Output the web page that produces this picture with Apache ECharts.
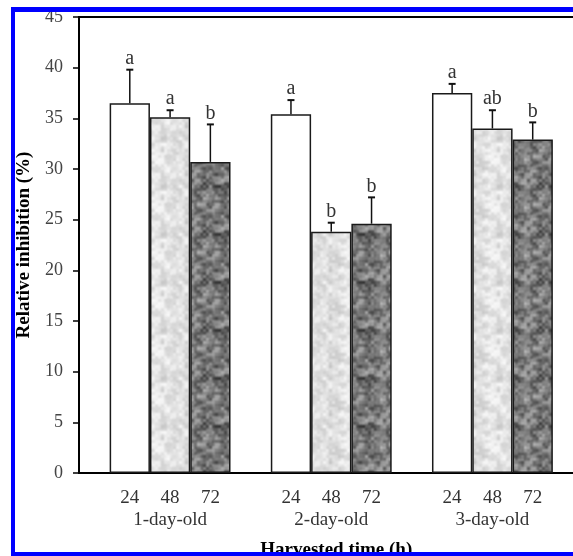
<!DOCTYPE html>
<html><head><meta charset="utf-8">
<script src="https://cdn.jsdelivr.net/npm/echarts@6/dist/echarts.min.js"></script>
<style>
html,body{margin:0;padding:0;background:#fff}
#wrap{position:relative;width:573px;height:556px;overflow:hidden;background:#fff}
#chart{width:573px;height:556px}
#frame{position:absolute;left:11px;top:7px;right:-20px;bottom:0;border-style:solid;border-color:#0000ff;border-width:5px 4px 4px 4px;box-sizing:border-box;pointer-events:none}
</style>
</head><body>
<div id="wrap"><div id="chart"></div><div id="frame"></div></div>
<script>
// ---- data ----
const categories = ['1-day-old', '2-day-old', '3-day-old'];
const harvestTimes = ['24', '48', '72'];
const values24 = [36.5, 35.4, 37.5];
const values48 = [35.1, 23.8, 34.0];
const values72 = [30.7, 24.6, 32.9];
const err24 = [3.3, 1.4, 0.9];
const err48 = [0.7, 0.9, 1.8];
const err72 = [3.7, 2.6, 1.7];
const letters24 = ['a', 'a', 'a'];
const letters48 = ['a', 'b', 'ab'];
const letters72 = ['b', 'b', 'b'];
const yMin = 0, yMax = 45, yStep = 5;

// ---- textures (deterministic) ----
function makeTexture(seed, base, amp) {
  const N = 48;
  const c = document.createElement('canvas'); c.width = c.height = N;
  const ctx = c.getContext('2d'); const img = ctx.createImageData(N, N);
  let s = seed;
  const rnd = () => { s = (s * 1103515245 + 12345) & 0x7fffffff; return s / 0x7fffffff; };
  function octave(cell) {
    const G = N / cell; const g = [];
    for (let i = 0; i < G * G; i++) g.push(rnd());
    return (x, y) => {
      const gx = x / cell, gy = y / cell;
      const x0 = Math.floor(gx), y0 = Math.floor(gy);
      const fx = gx - x0, fy = gy - y0;
      const sx = fx * fx * (3 - 2 * fx), sy = fy * fy * (3 - 2 * fy);
      const a = g[(y0 % G) * G + (x0 % G)], b = g[(y0 % G) * G + ((x0 + 1) % G)];
      const cc = g[((y0 + 1) % G) * G + (x0 % G)], d = g[((y0 + 1) % G) * G + ((x0 + 1) % G)];
      return (a * (1 - sx) + b * sx) * (1 - sy) + (cc * (1 - sx) + d * sx) * sy;
    };
  }
  const o1 = octave(6), o2 = octave(3);
  for (let y = 0; y < N; y++) for (let x = 0; x < N; x++) {
    const n = 0.6 * o1(x, y) + 0.4 * o2(x, y);
    let v = base + amp * (n - 0.5) * 2.4;
    v = Math.max(0, Math.min(255, v));
    const k = (y * N + x) * 4;
    img.data[k] = img.data[k + 1] = img.data[k + 2] = v; img.data[k + 3] = 255;
  }
  ctx.putImageData(img, 0, 0);
  return c;
}
const fills = [
  '#ffffff',
  { image: makeTexture(12345, 224, 26), repeat: 'repeat' },
  { image: makeTexture(67890, 124, 66), repeat: 'repeat' }
];

const valueSets = [values24, values48, values72];
const errSets = [err24, err48, err72];
const letterSets = [letters24, letters48, letters72];
const serif = 'Liberation Serif';

const series = [];
valueSets.forEach((vals, i) => {
  series.push({
    type: 'bar', name: harvestTimes[i], xAxisIndex: 1, yAxisIndex: 1,
    data: vals, barWidth: '25%', barGap: '0%', z: 2,
    itemStyle: { color: fills[i], borderColor: '#1a1a1a', borderWidth: 1.5 }
  });
});
valueSets.forEach((vals, i) => {
  series.push({
    type: 'custom', xAxisIndex: 1, yAxisIndex: 1, z: 5,
    data: vals.map((v, j) => [j, v, errSets[i][j]]),
    encode: { x: 0, y: 1 },
    renderItem: (params, api) => {
      const j = api.value(0), v = api.value(1), e = api.value(2);
      const band = api.size([1, 0])[0];
      const off = band * 0.25 * (i - 1);
      const p0 = api.coord([j, v]), p1 = api.coord([j, v + e]);
      const x = p0[0] + off;
      return {
        type: 'group', children: [
          { type: 'line', shape: { x1: x, y1: p0[1], x2: x, y2: p1[1] }, style: { stroke: '#111', lineWidth: 1.5 } },
          { type: 'line', shape: { x1: x - 3.5, y1: p1[1], x2: x + 3.5, y2: p1[1] }, style: { stroke: '#111', lineWidth: 2 } },
          { type: 'text', x: x, y: p1[1] - 11, style: { text: letterSets[i][params.dataIndex], fill: '#333', font: '20px "Liberation Serif"', align: 'center', verticalAlign: 'middle' } }
        ]
      };
    }
  });
});

const chart = echarts.init(document.getElementById('chart'), null, { renderer: 'canvas' });
chart.setOption({
  animation: false,
  backgroundColor: '#fff',
  grid: [
    { left: 79, right: -3, top: 17, bottom: 83, show: true, borderColor: '#000', borderWidth: 2, backgroundColor: 'transparent', containLabel: false, outerBoundsMode: 'none' },
    { left: 89.5, right: 0, top: 17, bottom: 83, containLabel: false, outerBoundsMode: 'none' }
  ],
  xAxis: [
    { gridIndex: 0, type: 'value', min: 0, max: 1, axisLine: { show: true, onZero: false, lineStyle: { color: '#000', width: 2 } }, axisTick: { show: false }, axisLabel: { show: false }, splitLine: { show: false } },
    {
      gridIndex: 1, type: 'category', data: categories,
      axisLine: { show: false }, axisTick: { show: false }, splitLine: { show: false },
      axisLabel: {
        interval: 0, margin: 14,
        formatter: v => harvestTimes.map(t => '{t|' + t + '}').join('') + '\n{c|' + v + '}',
        rich: {
          t: { width: 40.3, align: 'center', fontSize: 19, fontFamily: serif, color: '#333', lineHeight: 22 },
          c: { align: 'center', fontSize: 19, fontFamily: serif, color: '#333', lineHeight: 22 }
        }
      },
      name: 'Harvested time (h)', nameLocation: 'middle', nameGap: 68,
      nameTextStyle: { fontFamily: serif, fontWeight: 'bold', fontSize: 19, color: '#000', padding: [0, 0, 0, 10] }
    }
  ],
  yAxis: [
    {
      gridIndex: 0, type: 'value', min: yMin, max: yMax, interval: yStep,
      axisLine: { show: true, onZero: false, lineStyle: { color: '#000', width: 2 } },
      axisTick: { show: true, length: 6, lineStyle: { color: '#000', width: 1.5 } },
      axisLabel: { margin: 16, color: '#444', fontSize: 18, fontFamily: serif },
      splitLine: { show: false },
      name: 'Relative inhibition (%)', nameLocation: 'middle', nameGap: 45, nameRotate: 90,
      nameTextStyle: { fontFamily: serif, fontWeight: 'bold', fontSize: 19, color: '#000' }
    },
    { gridIndex: 1, type: 'value', min: yMin, max: yMax, interval: yStep, show: false }
  ],
  series: series
});
</script>
</body></html>
